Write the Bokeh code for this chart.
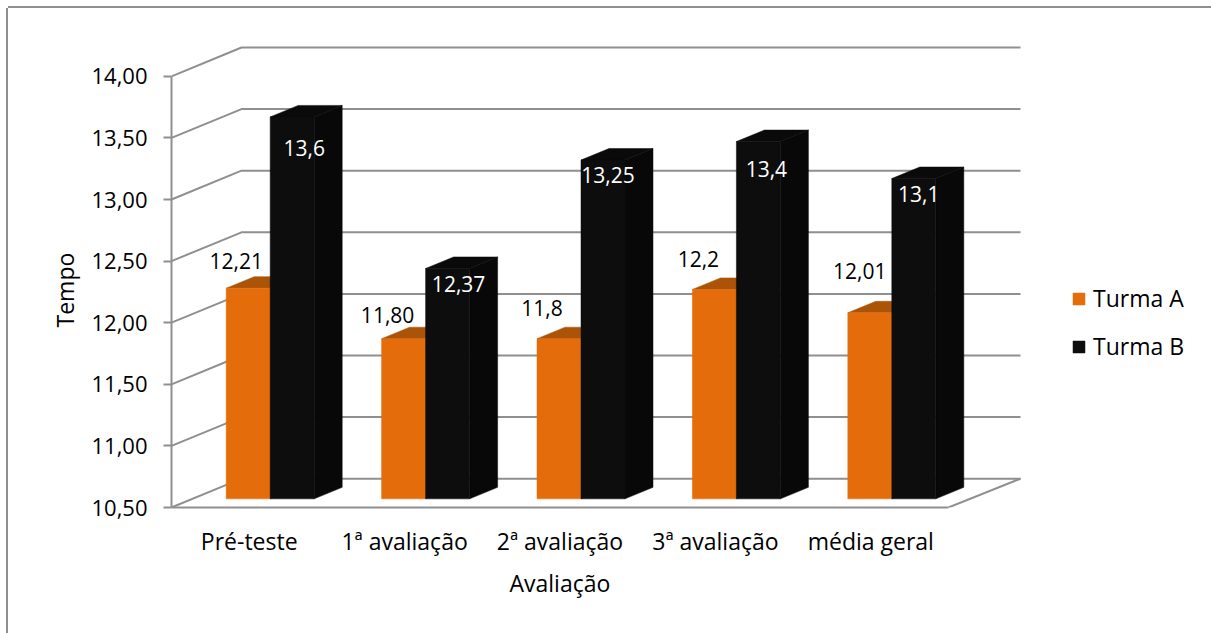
from bokeh.core.properties import value
from bokeh.embed import file_html
from bokeh.models import ColumnDataSource, FixedTicker, Legend, LegendItem, Range1d, Title
from bokeh.plotting import figure
from bokeh.resources import INLINE

categories = ["Pré-teste", "1ª avaliação", "2ª avaliação", "3ª avaliação", "média geral"]
turma_a = [12.21, 11.80, 11.8, 12.2, 12.01]
turma_b = [13.6, 12.37, 13.25, 13.4, 13.1]
turma_a_labels = ["12,21", "11,80", "11,8", "12,2", "12,01"]
turma_b_labels = ["13,6", "12,37", "13,25", "13,4", "13,1"]
y_ticks = [10.5, 11.0, 11.5, 12.0, 12.5, 13.0, 13.5, 14.0]
y_tick_labels = ["10,50", "11,00", "11,50", "12,00", "12,50", "13,00", "13,50", "14,00"]

FONT = "Open Sans"
GREY = "#8f8f8f"
ORANGE, ORANGE_TOP = "#e46c0a", "#ab5408"
BLACK, BLACK_SIDE, BLACK_TOP = "#0d0d0d", "#080808", "#0a0a0a"

# Scale of the front plane of the 3D box, in pixels per data unit.
PX_PER_CAT = 155.4
PX_PER_VAL = 123.2
# Oblique projection of the box depth, in data units.
DEPTH_X = 70 / PX_PER_CAT
DEPTH_Y = 28.8 / PX_PER_VAL
BACK_RIGHT = 5 + 72 / PX_PER_CAT
# Bars occupy the middle of the depth.
BAR_NEAR, BAR_DEPTH = 0.3, 0.4
BAR_W = 44 / PX_PER_CAT
BASE = y_ticks[0]

# The page margin leaves room for the chart's top and left rules.
MARGIN = 8
W, H = 1211 - MARGIN, 633 - MARGIN
LEFT, RIGHT, TOP, BOTTOM = 163, 6, 20, 126

p = figure(
    width=W, height=H, output_backend="svg", toolbar_location=None,
    x_range=Range1d(0, (W - LEFT - RIGHT) / PX_PER_CAT),
    y_range=Range1d(BASE, BASE + (H - TOP - BOTTOM) / PX_PER_VAL),
    min_border_left=LEFT, min_border_right=RIGHT, min_border_top=TOP, min_border_bottom=BOTTOM,
    outline_line_color=None, margin=(MARGIN, 0, 0, MARGIN),
)
p.styles = {"box-shadow": f"0 -2px 0 0 {GREY}, -2px 0 0 0 {GREY}"}
p.grid.visible = False

# Side and back walls, floor
wall_xs = [[0, DEPTH_X, BACK_RIGHT] for _ in y_ticks]
wall_ys = [[v, v + DEPTH_Y, v + DEPTH_Y] for v in y_ticks]
wall_xs.append([5, BACK_RIGHT])
wall_ys.append([BASE, BASE + DEPTH_Y])
p.multi_line(wall_xs, wall_ys, line_color=GREY, line_width=2)

# Axes
ya = p.yaxis[0]
ya.ticker = FixedTicker(ticks=y_ticks)
ya.major_label_overrides = dict(zip(y_ticks, y_tick_labels))
ya.bounds = (y_ticks[0], y_ticks[-1])
ya.major_tick_out, ya.major_tick_in, ya.minor_tick_out, ya.minor_tick_in = 8, 0, 0, 0
ya.major_label_standoff = 16

xa = p.xaxis[0]
centers = [i + 0.5 for i in range(len(categories))]
xa.ticker = FixedTicker(ticks=centers)
xa.major_label_overrides = dict(zip(centers, categories))
xa.bounds = (0, 5)
xa.major_tick_out, xa.major_tick_in, xa.minor_tick_out, xa.minor_tick_in = 0, 0, 0, 0
xa.major_label_standoff = 17

for ax in (xa, ya):
    ax.axis_line_color = GREY
    ax.axis_line_width = 2
    ax.major_tick_line_color = GREY
    ax.major_tick_line_width = 2
    ax.major_label_text_font = FONT
    ax.major_label_text_color = "#000000"
ya.major_label_text_font_size = "22px"
xa.major_label_text_font_size = "23px"

# Both axis titles sit against the front plane of the box, not centred on the frame.
p.add_layout(Title(text="Avaliação", align="left", offset=338, standoff=10, text_font=FONT,
                   text_font_size="23px", text_font_style="normal", text_color="#000000"), "below")
p.add_layout(Title(text="Tempo", align="left", offset=180, standoff=16, text_font=FONT,
                   text_font_size="23px", text_font_style="normal", text_color="#000000"), "left")

# Bars
near_dy = BAR_NEAR * DEPTH_Y
far_dx, far_dy = BAR_DEPTH * DEPTH_X, BAR_DEPTH * DEPTH_Y
near_dx = BAR_NEAR * DEPTH_X


def prism(values, offset, front, side, top):
    xc = [c + near_dx + offset for c in centers]
    top_xs, top_ys, side_xs, side_ys = [], [], [], []
    for x, v in zip(xc, values):
        l, r = x - BAR_W / 2, x + BAR_W / 2
        t, b = v + near_dy, BASE + near_dy
        top_xs.append([l, r, r + far_dx, l + far_dx])
        top_ys.append([t, t, t + far_dy, t + far_dy])
        side_xs.append([r, r + far_dx, r + far_dx, r])
        side_ys.append([b, b + far_dy, t + far_dy, t])
    p.patches(side_xs, side_ys, fill_color=side, line_color=side, line_width=0.5)
    p.patches(top_xs, top_ys, fill_color=top, line_color=top, line_width=0.5)
    return p.vbar(x=xc, width=BAR_W, top=[v + near_dy for v in values], bottom=BASE + near_dy,
                  fill_color=front, line_color=front, line_width=0.5)


bars_a = prism(turma_a, -BAR_W / 2, ORANGE, ORANGE_TOP, ORANGE_TOP)
bars_b = prism(turma_b, BAR_W / 2, BLACK, BLACK_SIDE, BLACK_TOP)

# Value labels, moved by hand around the bar tops (pixel nudges)
a_shift_x = [-12, -16, -17, -16, -10]
a_shift_y = [-27, -24, -31, -30, -42]
b_shift_x = [12, 11, 5, 8, 5]
b_shift_y = [31, 16, 15, 27, 15]
for values, labels, offset, sx, sy, color in (
    (turma_a, turma_a_labels, -BAR_W / 2, a_shift_x, a_shift_y, "#000000"),
    (turma_b, turma_b_labels, BAR_W / 2, b_shift_x, b_shift_y, "#ffffff"),
):
    src = ColumnDataSource(dict(
        x=[c + near_dx + offset for c in centers],
        y=[v + near_dy for v in values],
        text=labels, dx=sx, dy=sy,
    ))
    p.text(x="x", y="y", text="text", x_offset="dx", y_offset="dy", source=src,
           text_color=color, text_font_size="21px", text_font=value(FONT),
           text_align="center", text_baseline="middle")

legend = Legend(
    items=[LegendItem(label="Turma A", renderers=[bars_a]), LegendItem(label="Turma B", renderers=[bars_b])],
    location=(W - LEFT - RIGHT - 134, 145),
    orientation="vertical", background_fill_alpha=0, border_line_color=None,
    glyph_width=15, glyph_height=15, label_text_font=FONT, label_text_font_size="23px",
    label_text_color="#000000", label_height=24, spacing=16, padding=0, margin=0, label_standoff=7,
)
p.add_layout(legend, "center")

open("out.html", "w").write(file_html(p, INLINE))
